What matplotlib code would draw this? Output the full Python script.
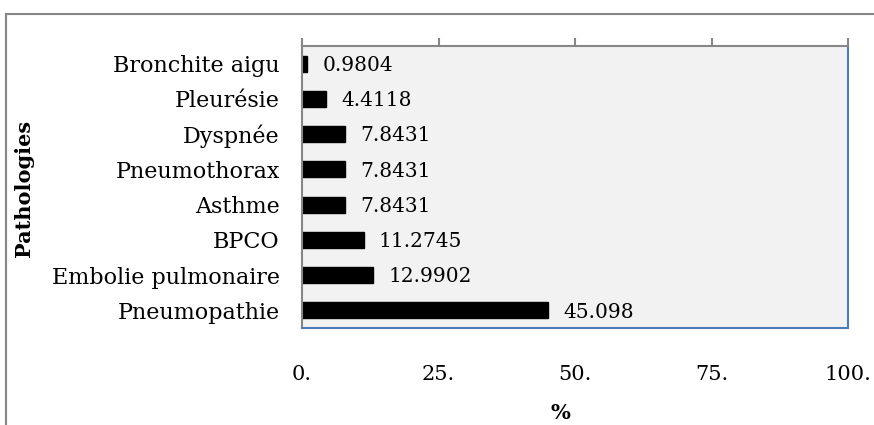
import numpy as np
import matplotlib.pyplot as plt
from matplotlib.patches import Rectangle

# data (top to bottom as shown)
pathologies = ['Bronchite aigu', 'Pleurésie', 'Dyspnée', 'Pneumothorax', 'Asthme',
               'BPCO', 'Embolie pulmonaire', 'Pneumopathie']
percent = [0.9804, 4.4118, 7.8431, 7.8431, 7.8431, 11.2745, 12.9902, 45.098]
value_labels = ['0.9804', '4.4118', '7.8431', '7.8431', '7.8431', '11.2745', '12.9902', '45.098']
xticks = [0, 25, 50, 75, 100]
xtick_labels = ['0.', '25.', '50.', '75.', '100.']

plt.rcParams['font.family'] = ['DejaVu Serif']

fig = plt.figure(figsize=(8.74, 4.25), dpi=100)
ax = fig.add_axes([302/874, 1-328/425, (848-302)/874, (328-46)/425])

# outer chart frame (cut off at right and bottom)
fig.patches.append(Rectangle((6/874, -0.2), 1.2, 1.2 - 14/425,
                             transform=fig.transFigure, fill=False,
                             edgecolor='#878787', linewidth=1.5))

y = np.arange(len(pathologies))
ax.barh(y, percent, height=0.45, color='black', edgecolor='black')
for yi, v, lab in zip(y, percent, value_labels):
    ax.text(v + 2.8, yi + 0.05, lab, va='center', ha='left', fontsize=14.5)

ax.set_xlim(0, 100)
ax.set_ylim(len(pathologies) - 0.5, -0.5)
ax.set_facecolor('#f2f2f2')

ax.set_yticks(y)
ax.set_yticklabels(pathologies, fontsize=16)
ax.tick_params(axis='y', length=0, pad=16)

ax.set_xticks(xticks)
ax.set_xticklabels(xtick_labels, fontsize=15)
ax.tick_params(axis='x', top=True, bottom=False, labeltop=False, labelbottom=True,
               direction='out', length=6, width=1.5, color='#878787', pad=21)

for s in ['left', 'top']:
    ax.spines[s].set_color('#878787')
    ax.spines[s].set_linewidth(1.5)
for s in ['right', 'bottom']:
    ax.spines[s].set_color('#4a7ebb')
    ax.spines[s].set_linewidth(1.5)

fig.text(24/874, 1-188/425, 'Pathologies', rotation=90, ha='center', va='center',
         fontsize=15, fontweight='bold')
fig.text(560/874, 1-413/425, '%', ha='center', va='center', fontsize=15, fontweight='bold')

plt.savefig('out.png', dpi=100)
